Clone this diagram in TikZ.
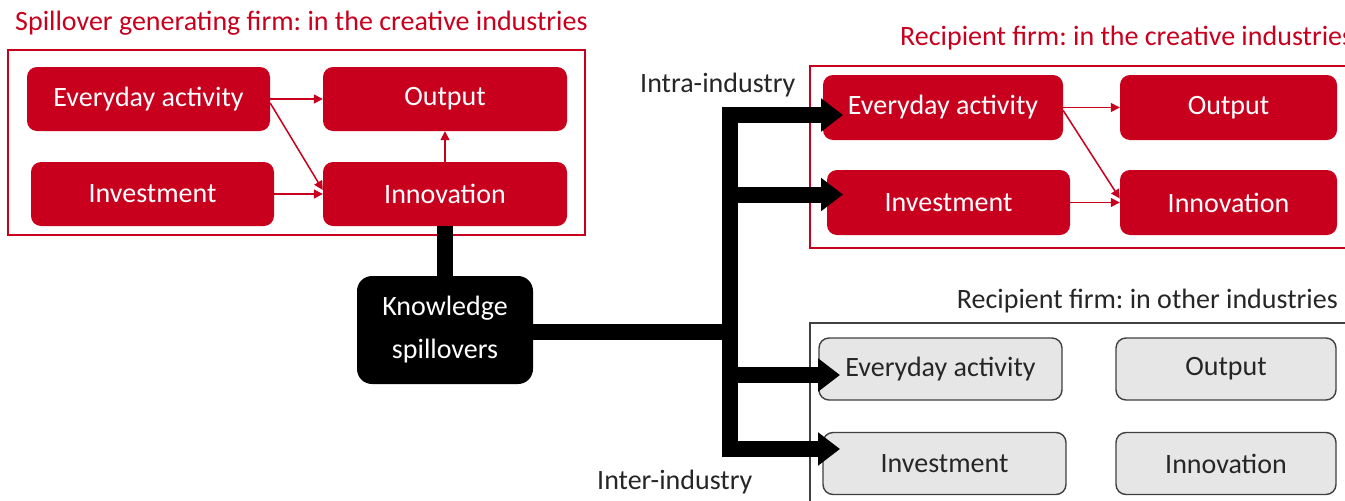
\documentclass[tikz,border=0pt]{standalone}
\usepackage{fontspec}
\setmainfont{Carlito}
\frenchspacing
\usetikzlibrary{arrows.meta,calc}
\definecolor{firmred}{RGB}{200,0,30}
\definecolor{boxgray}{RGB}{231,230,230}
\definecolor{edgegray}{RGB}{64,64,64}
\definecolor{inkgray}{RGB}{38,38,38}

\begin{document}
\begin{tikzpicture}[x=1pt,y=-1pt,
  font=\fontsize{28}{33}\selectfont,
  redbox/.style={fill=firmred, rounded corners=10pt, text=white,
    minimum height=64pt, inner sep=0pt},
  graybox/.style={draw=edgegray, line width=1.4pt, fill=boxgray,
    rounded corners=10pt, text=inkgray, minimum height=62pt, inner sep=0pt},
  frame/.style={draw=firmred, line width=1.5pt},
  redarrow/.style={draw=firmred, line width=1.5pt,
    -{Triangle[length=9pt,width=9pt]}},
  bus/.style={line width=16pt, line join=miter},
  busarrow/.style={bus, -{Triangle[length=22pt,width=32pt]}},
  label/.style={inner sep=0pt},
]
\useasboundingbox (0,0) rectangle (1345,501);

% ---- spillover generating firm ----
\node[label, anchor=west, text=firmred] (titleL) at (15,23)
  {Spillover generating firm: in the creative industries};
\draw[frame] (8,50) rectangle (585,235);
\node[redbox, minimum width=243pt] (gEv)  at (148.5,99)  {Everyday activity};
\node[redbox, minimum width=244pt] (gOut) at (445,99)    {Output};
\node[redbox, minimum width=243pt] (gInv) at (152.5,194) {Investment};
\node[redbox, minimum width=244pt] (gInn) at (445,194)   {Innovation};
\draw[redarrow] (gEv.east) -- (gOut.west);
\draw[redarrow] ($(gEv.east)+(0,4)$) -- ($(gInn.west)+(0,-4)$);
\draw[redarrow] (gInv.east) -- (gInn.west);
\draw[redarrow] (gInn.north) -- (gOut.south);

% ---- knowledge spillovers ----
\node[fill=black, rounded corners=15pt, text=white, align=center,
  minimum width=176pt, minimum height=108pt, inner sep=0pt,
  font=\fontsize{28}{43}\selectfont] (ks) at (445,330)
  {Knowledge\\spillovers};
\draw[bus] (ks.north) -- (gInn.south);
\coordinate (hub) at (730,332);
\draw[bus] (ks.east|-hub) -- (hub);

% ---- recipient firm, creative industries ----
\node[label, anchor=west, text=firmred] (titleR) at (900,38)
  {Recipient firm: in the creative industries};
\draw[frame] (1360,66) -- (810,66) -- (810,248) -- (1360,248);
\node[redbox, minimum width=240pt, minimum height=65pt] (rEv)  at (943,107.5)   {Everyday activity};
\node[redbox, minimum width=217pt, minimum height=65pt] (rOut) at (1228.5,107.5) {Output};
\node[redbox, minimum width=243pt, minimum height=65pt] (rInv) at (948.5,202.5) {Investment};
\node[redbox, minimum width=217pt, minimum height=65pt] (rInn) at (1228.5,202.5) {Innovation};
\draw[redarrow] (rEv.east) -- (rOut.west);
\draw[redarrow] ($(rEv.east)+(0,3)$) -- ($(rInn.west)+(0,-4)$);
\draw[redarrow] (rInv.east) -- (rInn.west);

% ---- recipient firm, other industries ----
\node[label, anchor=east, text=inkgray] (titleO) at (1338,301)
  {Recipient firm: in other industries};
\draw[draw=edgegray, line width=1.4pt] (1360,323) -- (810,323) -- (810,510);
\node[graybox, minimum width=243pt] (oEv)  at (940.5,369)  {Everyday activity};
\node[graybox, minimum width=220pt] (oOut) at (1226,369)   {Output};
\node[graybox, minimum width=243pt] (oInv) at (944.5,463.5) {Investment};
\node[graybox, minimum width=220pt] (oInn) at (1226,463.5) {Innovation};

% ---- spillover channels ----
\coordinate (tipA) at (843,115);
\coordinate (tipB) at (843,194.5);
\coordinate (tipC) at (840,375);
\coordinate (tipD) at (840,449);
\draw[busarrow] (hub) |- (tipA);
\draw[busarrow] (hub) |- (tipB);
\draw[busarrow] (hub) |- (tipC);
\draw[busarrow] (hub) |- (tipD);

\node[label, anchor=west, text=inkgray] (intra) at (640,85) {Intra-industry};
\node[label, anchor=west, text=inkgray] (inter) at (597,482) {Inter-industry};
\end{tikzpicture}
\end{document}
